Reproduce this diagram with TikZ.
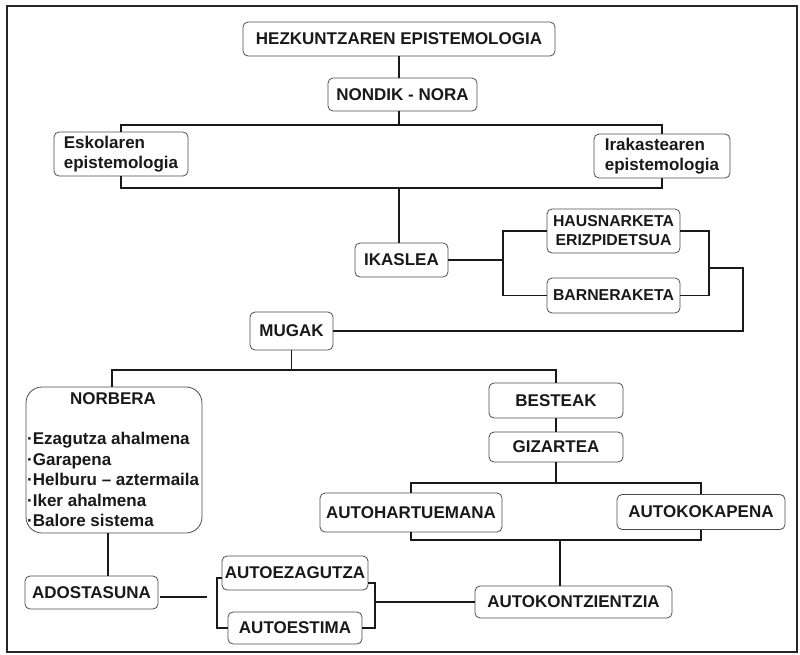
\documentclass[tikz,border=0pt]{standalone}
\usepackage{fontspec}
\setmainfont{Liberation Sans}
\begin{document}
\begin{tikzpicture}[x=1pt,y=-1pt,
  box/.style={draw=black!70, line width=0.8pt, rounded corners=5pt, inner sep=0pt,
    font=\bfseries\fontsize{17}{19.5}\selectfont, text=black!90},
  smallbox/.style={box, font=\bfseries\fontsize{15.8}{19}\selectfont},
  bigbox/.style={draw=black!70, line width=0.8pt, rounded corners=16pt, inner sep=0pt},
  plain/.style={inner sep=0pt, font=\bfseries\fontsize{17}{20.5}\selectfont, text=black!90},
  link/.style={draw=black!90, line width=1.6pt}]
\useasboundingbox (0,0) rectangle (800,654);
% outer frame
\draw[line width=1.5pt, black!85] (7,6) rectangle (797,652);

% nodes
\node[box, minimum width=312, minimum height=34] (hez) at (399,39) {HEZKUNTZAREN EPISTEMOLOGIA};
\node[box, minimum width=149, minimum height=33] (nondik) at (402.5,94.5) {NONDIK - NORA};
\node[box, minimum width=134, minimum height=44, align=left] (eskola) at (121,154) {Eskolaren\\epistemologia};
\node[box, minimum width=136, minimum height=44, align=left] (irakas) at (662,156) {Irakastearen\\epistemologia};
\node[box, minimum width=93, minimum height=34] (ikaslea) at (401.5,260) {IKASLEA};
\node[smallbox, minimum width=133, minimum height=44, align=center] (haus) at (613.5,231) {HAUSNARKETA\\ERIZPIDETSUA};
\node[smallbox, minimum width=133, minimum height=35] (barner) at (613.5,295.5) {BARNERAKETA};
\node[box, minimum width=83, minimum height=38] (mugak) at (291.5,331) {MUGAK};
\node[bigbox, minimum width=176, minimum height=146] (norbera) at (114,460) {};
\node[plain] (nbtitle) at (113,399) {NORBERA};
\node[plain, anchor=north west, align=left] (nblist) at (27,432)
  {·Ezagutza ahalmena\\·Garapena\\·Helburu – aztermaila\\·Iker ahalmena\\·Balore sistema};
\node[box, minimum width=134, minimum height=35] (besteak) at (556,400.5) {BESTEAK};
\node[box, minimum width=134, minimum height=30] (gizartea) at (556,447) {GIZARTEA};
\node[box, minimum width=182, minimum height=39] (autohar) at (411,512.5) {AUTOHARTUEMANA};
\node[box, minimum width=168, minimum height=35] (autokok) at (701,512) {AUTOKOKAPENA};
\node[box, minimum width=197, minimum height=32] (autokon) at (573.5,602) {AUTOKONTZIENTZIA};
\node[box, minimum width=146, minimum height=34] (autoez) at (295,573) {AUTOEZAGUTZA};
\node[box, minimum width=134, minimum height=32] (autoest) at (295,628) {AUTOESTIMA};
\node[box, minimum width=133, minimum height=33] (adost) at (91.5,592.5) {ADOSTASUNA};

% junction points
\coordinate (topbus) at (399,125);
\coordinate (midbus) at (399,188);
\coordinate (brL) at (503,260);
\coordinate (brR) at (709,268);
\coordinate (loopR) at (743,268);
\coordinate (mbus) at (291.5,370);
\coordinate (gbus) at (556,483);
\coordinate (abus) at (560,540);
\coordinate (brR2) at (375,602);
\coordinate (brL2) at (217,597);
\coordinate (adEnd) at (207,597);

% connectors
\draw[link] (hez.south) -- (hez.south |- nondik.north);
\draw[link] (nondik.south -| topbus) -- (topbus);
\draw[link] (eskola.north) |- (topbus) -| (irakas.north);
\draw[link] (eskola.south) |- (midbus) -| (irakas.south);
\draw[link] (midbus) -- (midbus |- ikaslea.north);
\draw[link] (ikaslea.east) -- (brL);
\draw[link] (haus.west) -| (brL) |- (barner.west);
\draw[link] (haus.east) -| (brR) |- (barner.east);
\draw[link] (brR) -- (loopR) |- (mugak.east);
\draw[link] (mugak.south) -- (mbus);
\draw[link] ([xshift=-2pt]norbera.north) |- (mbus) -| (besteak.north);
\draw[link] (besteak.south) -- (gizartea.north);
\draw[link] (gizartea.south) -- (gbus);
\draw[link] (autohar.north) |- (gbus) -| (autokok.north);
\draw[link] (autohar.south) |- (abus) -| (autokok.south);
\draw[link] (abus) -- (abus |- autokon.north);
\draw[link] (autokon.west) -- (brR2);
\draw[link] ([yshift=-10pt]autoez.east) -| (brR2) |- (autoest.east);
\draw[link] ([yshift=-5pt]autoez.west) -| (brL2) |- (autoest.west);
\draw[link] ([shift={(2pt,-4.5pt)}]adost.east) -- (adEnd);
\draw[link] ([xshift=-6pt]norbera.south) -- ([xshift=-6pt]norbera.south |- adost.north);
\end{tikzpicture}
\end{document}
